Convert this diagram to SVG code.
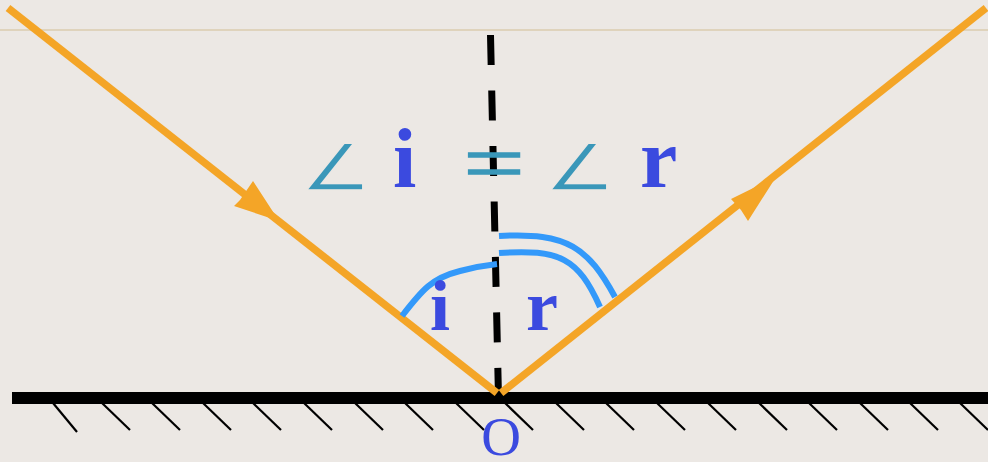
<svg xmlns="http://www.w3.org/2000/svg" width="988" height="462" viewBox="0 0 988 462">
<style>
.ray{stroke:#F4A527;stroke-width:7.5;fill:none;stroke-linecap:butt}
.head{fill:#F4A527}
.arc{stroke:#3399FA;stroke-width:6;fill:none}
.lbl{font-family:"Liberation Serif",serif;font-weight:bold;fill:#3B4ADF}
.sym{font-family:"DejaVu Sans",sans-serif;fill:#3A97B9;stroke:#ECE8E4;stroke-width:1.6}
.hatch{stroke:#000;stroke-width:2.2}
</style>
<rect width="988" height="462" fill="#ECE8E4"/>
<line x1="0" y1="30" x2="988" y2="30" stroke="#DFD3BC" stroke-width="2"/>
<g id="mirror">
<rect x="12" y="392" width="976" height="12" fill="#000"/>
<g class="hatch">
<line x1="53" y1="403" x2="77" y2="432"/>
<line x1="102" y1="403" x2="130" y2="430"/>
<line x1="152" y1="403" x2="180" y2="430"/>
<line x1="203" y1="403" x2="231" y2="430"/>
<line x1="253" y1="403" x2="281" y2="430"/>
<line x1="304" y1="403" x2="332" y2="430"/>
<line x1="355" y1="403" x2="383" y2="430"/>
<line x1="405" y1="403" x2="433" y2="430"/>
<line x1="456" y1="403" x2="484" y2="430"/>
<line x1="505" y1="403" x2="533" y2="430"/>
<line x1="556" y1="403" x2="584" y2="430"/>
<line x1="606" y1="403" x2="634" y2="430"/>
<line x1="657" y1="403" x2="685" y2="430"/>
<line x1="708" y1="403" x2="736" y2="430"/>
<line x1="759" y1="403" x2="787" y2="430"/>
<line x1="809" y1="403" x2="837" y2="430"/>
<line x1="860" y1="403" x2="888" y2="430"/>
<line x1="910" y1="403" x2="938" y2="430"/>
<line x1="960" y1="403" x2="988" y2="430"/>
</g>
</g>
<g id="normal">
<line x1="490.5" y1="35" x2="498.5" y2="398" stroke="#000" stroke-width="7" stroke-dasharray="30 25.5"/>
</g>
<g id="connectors">
<line class="ray" x1="8" y1="8" x2="497" y2="393"/>
<polygon class="head" points="279,221 234,206 240,200 253,181"/>
<line class="ray" x1="501" y1="393" x2="986" y2="8"/>
<polygon class="head" points="776,177 748,221 741,210 731,199"/>
</g>
<g id="arcs">
<path class="arc" d="M402,316 C422,290 432,278 460,271 C475,267 488,265 497,264"/>
<path class="arc" d="M499,253 C560,249 578,258 600,307"/>
<path class="arc" d="M499,236 C568,232 588,248 615,297"/>
</g>
<g id="labels">
<text class="sym" x="300" y="190" font-size="80" transform="matrix(1 0 0 0.8 0 38)">∠</text>
<text class="lbl" x="393" y="187" font-size="84">i</text>
<text x="0" y="0" font-size="82" text-anchor="middle" font-family="Liberation Serif,serif" fill="#3A97B9" stroke="#3A97B9" stroke-width="1.5" transform="translate(494,191) scale(1.32,1)">=</text>
<text class="sym" x="544" y="190" font-size="80" transform="matrix(1 0 0 0.8 0 38)">∠</text>
<text class="lbl" x="640" y="187" font-size="84">r</text>
<text class="lbl" x="430" y="330" font-size="72">i</text>
<text class="lbl" x="526" y="330" font-size="72">r</text>
<text id="O" x="501" y="455" font-size="55" text-anchor="middle" font-family="Liberation Serif,serif" fill="#3B4ADF">O</text>
</g>
</svg>
